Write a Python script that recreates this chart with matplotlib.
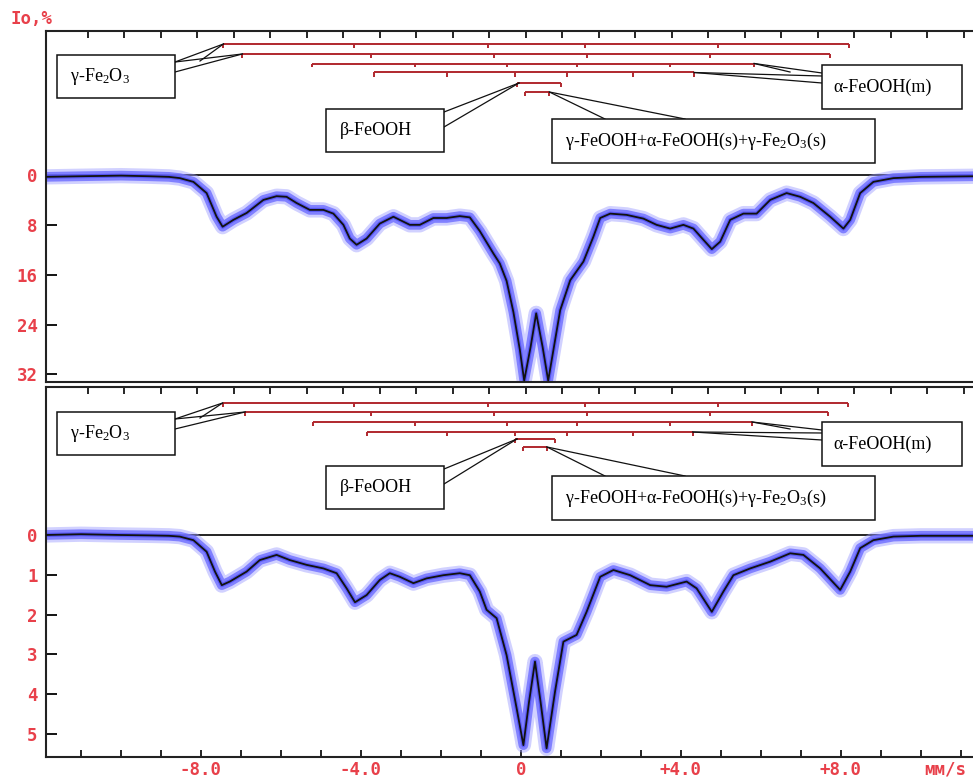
import matplotlib
matplotlib.use("Agg")
import matplotlib.pyplot as plt
from matplotlib.patches import Rectangle

plt.rcParams['font.family'] = ['DejaVu Sans Mono']
plt.rcParams['mathtext.fontset'] = 'custom'
plt.rcParams['mathtext.rm'] = 'Liberation Serif'
plt.rcParams['mathtext.it'] = 'Liberation Serif:italic'
plt.rcParams['mathtext.bf'] = 'Liberation Serif'

# ---------------- data ----------------
# top spectrum (absorption, %)  velocity mm/s
top_v = [-11.9, -11.0, -10.0, -9.3, -8.8, -8.53, -8.19, -7.86, -7.61, -7.46, -7.19, -6.86,
         -6.44, -6.11, -5.86, -5.61, -5.28, -4.94, -4.69, -4.44, -4.28, -4.11, -3.86, -3.53,
         -3.19, -2.78, -2.53, -2.19, -1.86, -1.53, -1.28, -1.03, -0.69, -0.53, -0.36, -0.19,
         -0.03, 0.08, 0.24, 0.38, 0.54, 0.68, 0.81, 0.98, 1.23, 1.56, 1.81, 1.98, 2.23, 2.64,
         3.06, 3.39, 3.73, 4.06, 4.31, 4.56, 4.77, 4.98, 5.23, 5.56, 5.89, 6.23, 6.64, 6.98,
         7.31, 7.73, 8.06, 8.23, 8.48, 8.81, 9.31, 10.0, 11.35]
top_i = [0.3, 0.2, 0.1, 0.2, 0.3, 0.5, 1.1, 2.9, 6.7, 8.3, 7.2, 6.1,
         4.0, 3.4, 3.5, 4.5, 5.6, 5.6, 6.2, 8.0, 10.2, 11.2, 10.2, 7.8,
         6.7, 8.0, 8.0, 6.9, 6.9, 6.6, 6.8, 9.0, 12.6, 14.2, 17.0, 22.0,
         28.0, 33.0, 27.6, 22.2, 27.6, 33.0, 28.1, 21.7, 16.9, 13.9, 9.9, 6.9, 6.2, 6.4,
         7.0, 8.0, 8.6, 8.0, 8.6, 10.4, 11.9, 10.7, 7.2, 6.2, 6.2, 4.0, 2.9, 3.5,
         4.5, 6.7, 8.6, 7.2, 2.9, 1.1, 0.5, 0.3, 0.2]

# bottom spectrum
bot_v = [-11.9, -11.0, -10.0, -9.3, -8.8, -8.53, -8.19, -7.86, -7.65, -7.48, -7.28, -6.86,
         -6.53, -6.11, -5.78, -5.36, -4.94, -4.61, -4.36, -4.15, -3.86, -3.53, -3.28, -3.03,
         -2.69, -2.36, -1.94, -1.53, -1.28, -1.03, -0.86, -0.61, -0.36, -0.11, 0.06, 0.2,
         0.35, 0.49, 0.64, 0.85, 1.06, 1.39, 1.64, 1.98, 2.31, 2.73, 3.23, 3.64, 4.14, 4.39,
         4.77, 5.06, 5.31, 5.73, 6.23, 6.73, 7.06, 7.48, 7.98, 8.23, 8.48, 8.81, 9.31, 10.0, 11.35]
bot_i = [0.0, -0.02, 0.0, 0.01, 0.02, 0.04, 0.13, 0.42, 0.92, 1.26, 1.17, 0.92,
         0.63, 0.50, 0.63, 0.75, 0.84, 0.96, 1.34, 1.69, 1.51, 1.13, 0.96, 1.05,
         1.21, 1.09, 1.01, 0.96, 1.01, 1.42, 1.88, 2.09, 3.02, 4.35, 5.28, 4.2,
         3.18, 4.2, 5.36, 3.94, 2.68, 2.51, 1.93, 1.05, 0.88, 1.01, 1.26, 1.30, 1.17, 1.34,
         1.93, 1.42, 1.01, 0.84, 0.67, 0.46, 0.50, 0.84, 1.38, 0.92, 0.33, 0.13, 0.04, 0.02, 0.02]

# stick diagrams (line positions, mm/s)
top_sticks = [
    [-7.44, -4.18, -0.83, 1.60, 4.93, 8.20],   # gamma-Fe2O3 (1)
    [-6.97, -3.75, -0.68, 1.65, 4.73, 7.73],   # gamma-Fe2O3 (2)
    [-5.22, -2.65, -0.35, 1.39, 3.73, 5.83],   # alpha-FeOOH(m) (1)
    [-3.67, -1.85, -0.15, 1.14, 2.80, 4.33],   # alpha-FeOOH(m) (2)
    [-0.10, 1.00],                             # beta-FeOOH
    [0.11, 0.71],                              # gamma-FeOOH + ...
]
bot_sticks = [
    [-7.46, -4.18, -0.83, 1.60, 4.93, 8.18],
    [-6.90, -3.75, -0.68, 1.65, 4.73, 7.68],
    [-5.20, -2.65, -0.35, 1.39, 3.73, 5.78],
    [-3.85, -1.85, -0.15, 1.14, 2.80, 4.30],
    [-0.15, 0.85],
    [0.05, 0.65],
]

ytick_top = [0, 8, 16, 24, 32]
ytick_bot = [0, 1, 2, 3, 4, 5]
xlabels = {-8: "-8.0", -4: "-4.0", 0: "0", 4: "+4.0", 8: "+8.0"}

RED = '#e8404a'
BAR = '#b0282e'
BLUE = '#7272ff'

W, H = 973, 778
fig = plt.figure(figsize=(W / 100, H / 100), dpi=100)


def add_axes_px(l, t, r, b):
    return fig.add_axes([l / W, 1 - b / H, (r - l) / W, (b - t) / H])


def px2v(px):
    return (px - 521) / 40.0


ax1 = add_axes_px(46, 31, 976, 382)
ax2 = add_axes_px(46, 387, 976, 757)

ax1.set_xlim(px2v(46), px2v(976))
ax2.set_xlim(px2v(46), px2v(976))
ax1.set_ylim((382 - 175) / 6.23, (31 - 175) / 6.23)
ax2.set_ylim((757 - 535) / 39.8, (387 - 535) / 39.8)


def topticks():
    t = []
    v = -10.83
    while v < 11.3:
        t.append(v)
        v += 0.9125
    return t


for ax, v, y, yt in ((ax1, top_v, top_i, ytick_top), (ax2, bot_v, bot_i, ytick_bot)):
    ax.plot(v, y, color='#9a9aff', lw=11.0, alpha=0.45, solid_joinstyle='round', zorder=1.8)
    ax.plot(v, y, color=BLUE, lw=7.0, alpha=0.85, solid_joinstyle='round', zorder=2)
    ax.plot(v, y, color='#4a4af0', lw=3.0, alpha=0.7, zorder=2.5)
    ax.plot(v, y, color='#111111', lw=1.3, zorder=3)
    ax.axhline(0, color='#222222', lw=1.4, zorder=1.5)
    ax.set_yticks(yt)
    ax.set_yticklabels([str(t) for t in yt], fontweight='bold')
    ax.tick_params(axis='y', direction='in', length=8, width=1.3, labelcolor=RED,
                   labelsize=12.5, pad=6, right=False)
    ax.set_xticks(topticks(), minor=True)
    ax.tick_params(axis='x', which='minor', direction='in', length=5, width=1.2,
                   top=True, bottom=False)
    for s in ax.spines.values():
        s.set_linewidth(1.5)
        s.set_color('#222222')
    ax.spines['right'].set_visible(False)

ax1.set_xticks([])
ax1.tick_params(axis='x', which='major', bottom=False, labelbottom=False)
ax2.set_xticks(list(range(-11, 12)))
ax2.set_xticklabels([xlabels.get(k, "") for k in range(-11, 12)], fontweight='bold')
ax2.tick_params(axis='x', which='major', direction='in', length=5, width=1.2,
                labelcolor=RED, labelsize=12.5, pad=3, top=False)

fig.text(10 / W, 1 - 19 / H, "Io,%", color=RED, fontsize=12.5, fontweight='bold',
         va='center', ha='left')
ax2.text(px2v(945), (769 - 535) / 39.8, "мм/s", color=RED, fontsize=12.5,
         fontweight='bold', ha='center', va='center', clip_on=False)


def d(ax, px, py):
    return ax.transData.inverted().transform((px, H - py))


def draw_sticks(ax, sticks, rows_py, tick_px=4):
    for pos, py in zip(sticks, rows_py):
        y = d(ax, 0, py)[1]
        y2 = d(ax, 0, py + tick_px)[1]
        ax.plot([min(pos), max(pos)], [y, y], color=BAR, lw=1.4, zorder=4,
                solid_capstyle='butt')
        ax.vlines(pos, y, y2, color=BAR, lw=1.4, zorder=4)


def box(ax, x0, y0, x1, y1, text, tx):
    (a, b) = d(ax, x0, y1)
    (c, e) = d(ax, x1, y0)
    ax.add_patch(Rectangle((a, e), c - a, b - e, facecolor='white', edgecolor='#111111',
                           lw=1.1, zorder=5))
    p = d(ax, tx, (y0 + y1) / 2)
    ax.text(p[0], p[1], text, family='Liberation Serif', fontweight='normal', fontsize=13,
            va='center', ha='left', zorder=6)


def line(ax, p0, target):
    a = d(ax, *p0)
    ax.plot([a[0], target[0]], [a[1], target[1]], color='#111111', lw=0.9, zorder=4.5)


def annotate_panel(ax, sticks, rows, boxes_off):
    draw_sticks(ax, sticks, rows)
    ry = [d(ax, 0, r)[1] for r in rows]
    o = boxes_off
    # gamma-Fe2O3
    box(ax, 57, 55 + o, 175, 98 + o, r"γ-Fe$_2$O$_3$", 70)
    t1 = (min(sticks[0]), ry[0])
    t2 = (min(sticks[1]), ry[1])
    line(ax, (175, 62 + o), t1)
    line(ax, (200, 61 + o), t1)
    line(ax, (175, 62 + o), t2)
    line(ax, (175, 72 + o), t2)
    # alpha-FeOOH(m)
    box(ax, 822, 65 + o, 962, 109 + o, "α-FeOOH(m)", 833)
    t3 = (max(sticks[2]), ry[2])
    t4 = (max(sticks[3]), ry[3] + 0.0)
    line(ax, (822, 73 + o), t3)
    line(ax, (790, 72 + o), t3)
    line(ax, (822, 83 + o), t4)
    line(ax, (822, 76 + o), t4)
    # beta-FeOOH
    box(ax, 326, 109 + o, 444, 152 + o, "β-FeOOH", 340)
    t5 = (min(sticks[4]) + 0.05, ry[4])
    line(ax, (444, 112 + o), t5)
    line(ax, (444, 127 + o), t5)
    # gamma-FeOOH + ...
    box(ax, 552, 119 + o, 875, 163 + o,
        r"γ-FeOOH+α-FeOOH(s)+γ-Fe$_2$O$_3$(s)", 565)
    t6 = (max(sticks[5]), ry[5])
    line(ax, (605, 119 + o), t6)
    line(ax, (685, 119 + o), t6)


annotate_panel(ax1, top_sticks, [44, 54, 63.5, 72.5, 83, 92], 0)
annotate_panel(ax2, bot_sticks, [403, 412, 422, 432, 439, 447], 357)

fig.savefig("out.png", dpi=100)
